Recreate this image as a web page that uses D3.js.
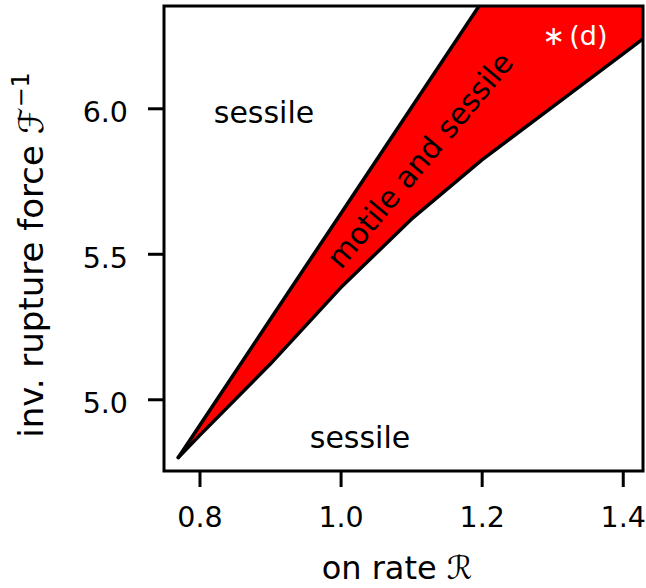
<!DOCTYPE html>
<html>
<head>
<meta charset="utf-8">
<script src="https://cdn.jsdelivr.net/npm/d3@7"></script>
<style>
  html, body { margin: 0; padding: 0; background: #fff; }
  text { font-family: "DejaVu Sans", sans-serif; fill: #000; }
</style>
</head>
<body>
<svg id="chart" width="646" height="588"></svg>
<script>
// Phase boundaries: inverse rupture force vs. on rate
const upperR = [0.77, 0.8, 0.9, 1.0, 1.1, 1.2, 1.3, 1.43];
const upperF = [4.80, 4.909, 5.273, 5.637, 6.001, 6.365, 6.729, 7.20];
const lowerR = [0.77, 0.8, 0.9, 1.0, 1.1, 1.2, 1.3, 1.4, 1.43];
const lowerF = [4.80, 4.875, 5.12, 5.383, 5.618, 5.822, 6.004, 6.186, 6.241];

const xTicks = [0.8, 1.0, 1.2, 1.4];
const yTicks = [5.0, 5.5, 6.0];

const svg = d3.select("#chart");
const plotLeft = 164, plotRight = 643, plotTop = 6, plotBottom = 471;

const x = d3.scaleLinear().domain([0.7497, 1.4287]).range([plotLeft, plotRight]);
const y = d3.scaleLinear().domain([4.7535, 6.3515]).range([plotBottom, plotTop]);

svg.append("defs").append("clipPath").attr("id", "plot-clip")
  .append("rect").attr("x", plotLeft).attr("y", plotTop)
  .attr("width", plotRight - plotLeft).attr("height", plotBottom - plotTop);

const upper = upperR.map((r, i) => [r, upperF[i]]);
const lower = lowerR.map((r, i) => [r, lowerF[i]]);

const line = d3.line().x(d => x(d[0])).y(d => y(d[1]));

const g = svg.append("g").attr("clip-path", "url(#plot-clip)");

// motile-and-sessile region between the two boundaries
g.append("path")
  .attr("d", line(upper.concat(lower.slice().reverse())) + "Z")
  .attr("fill", "#ff0000")
  .attr("stroke", "none");

[upper, lower].forEach(pts => {
  g.append("path")
    .attr("d", line(pts))
    .attr("fill", "none")
    .attr("stroke", "#000")
    .attr("stroke-width", 3.5)
    .attr("stroke-linejoin", "round")
    .attr("stroke-linecap", "round");
});

// axes
const xAxis = d3.axisBottom(x).tickValues(xTicks).tickFormat(d3.format(".1f"))
  .tickSize(16).tickPadding(20);
const yAxis = d3.axisLeft(y).tickValues(yTicks).tickFormat(d3.format(".1f"))
  .tickSize(16).tickPadding(20);

const gx = svg.append("g").attr("transform", `translate(0,${plotBottom})`).call(xAxis);
const gy = svg.append("g").attr("transform", `translate(${plotLeft},0)`).call(yAxis);
[gx, gy].forEach(a => {
  a.select(".domain").remove();
  a.selectAll(".tick line").attr("stroke", "#000").attr("stroke-width", 3);
  a.selectAll(".tick text").attr("font-size", 28.5).attr("fill", "#000")
    .attr("font-family", "DejaVu Sans, sans-serif");
});
gy.selectAll(".tick text").attr("dy", "0.48em");

// frame
svg.append("rect")
  .attr("x", plotLeft).attr("y", plotTop)
  .attr("width", plotRight - plotLeft).attr("height", plotBottom - plotTop)
  .attr("fill", "none").attr("stroke", "#000").attr("stroke-width", 3);

// region labels
svg.append("text").attr("x", 264).attr("y", 123).attr("text-anchor", "middle")
  .attr("font-size", 30).text("sessile");
svg.append("text").attr("x", 360).attr("y", 448).attr("text-anchor", "middle")
  .attr("font-size", 30).text("sessile");
svg.append("text")
  .attr("transform", "translate(420,160) rotate(-50)")
  .attr("text-anchor", "middle").attr("dominant-baseline", "central")
  .attr("font-size", 30).text("motile and sessile");
const star = svg.append("text").attr("x", 575).attr("y", 45).attr("text-anchor", "middle")
  .attr("font-size", 27).style("fill", "#fff");
star.append("tspan").text("∗");
star.append("tspan").attr("dx", 4).text("(d)");

// axis titles
svg.append("text").attr("x", 397).attr("y", 579).attr("text-anchor", "middle")
  .attr("font-size", 32).text("on rate ℛ");
const yl = svg.append("text")
  .attr("transform", "translate(43,255) rotate(-90)")
  .attr("text-anchor", "middle").attr("font-size", 34);
yl.append("tspan").text("inv. rupture force ℱ");
yl.append("tspan").attr("dy", -14).attr("font-size", 24).text("−1");
</script>
</body>
</html>
